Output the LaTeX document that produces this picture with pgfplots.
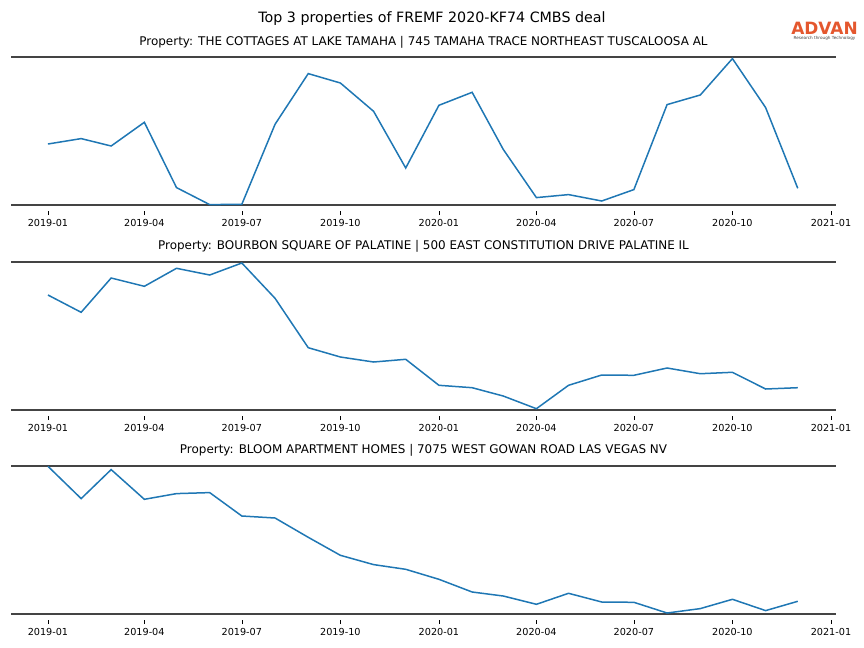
\documentclass[border=0pt]{standalone}
\usepackage{pgfplots}
\usepackage{pgfplotstable}
\pgfplotsset{compat=1.18}
\usepackage{fontspec}
\setmainfont{DejaVu Sans}
\definecolor{mplblue}{HTML}{1F77B4}
\definecolor{spine}{HTML}{444444}
\definecolor{advan}{HTML}{E4572E}

% x = days since 2019-01-01, y = relative level (axis range 0..148)
\pgfplotstableread{
x y
0 61.0
31 66.4
59 59.0
90 82.7
120 17.4
151 0.4
181 0.7
212 80.7
243 131.4
273 122.0
304 93.7
334 37.0
365 99.7
396 112.7
425 55.7
456 7.4
486 10.4
517 4.0
547 15.4
578 100.4
609 110.0
639 146.4
670 97.4
700 16.7
}\propA
\pgfplotstableread{
x y
0 115.0
31 97.7
59 132.0
90 123.7
120 141.7
151 135.0
181 147.0
212 111.7
243 62.3
273 53.0
304 48.0
334 50.7
365 24.7
396 22.3
425 14.0
456 1.3
486 24.7
517 35.0
547 34.7
578 42.0
609 36.3
639 37.7
670 21.0
700 22.3
}\propB
\pgfplotstableread{
x y
0 147.7
31 115.4
59 144.4
90 114.7
120 120.4
151 121.4
181 98.0
212 96.0
243 76.7
273 58.7
304 49.4
334 44.7
365 34.7
396 22.0
425 18.0
456 9.7
486 20.7
517 12.0
547 11.7
578 1.0
609 5.4
639 14.7
670 3.4
700 12.7
}\propC

\pgfplotsset{
  panel/.style={
    scale only axis, width=825bp, height=148bp,
    anchor=south west,
    xmin=-34.5, xmax=735.7, ymin=0, ymax=148,
    axis x line=box, axis y line=none,
    axis line style={spine, line width=1.5bp},
    xtick pos=lower,
    xtick={0,90,181,273,365,456,547,639,731},
    xticklabels={2019-01,2019-04,2019-07,2019-10,2020-01,2020-04,2020-07,2020-10,2021-01},
    ytick=\empty,
    tick align=outside, major tick length=4bp,
    xtick style={draw=black, line width=0.6bp, yshift=-6bp},
    x tick label style={font=\fontsize{9.7}{11}\selectfont, yshift=-7bp},
    /pgf/number format/assume math mode=true,
    clip=false,
  }
}

\begin{document}
\begin{tikzpicture}
\useasboundingbox (0,0) rectangle (864bp,-648bp);

\node[font=\fontsize{14.3}{16}\selectfont] at (432bp,-19bp) {Top 3 properties of FREMF 2020-KF74 CMBS deal};

\node[font=\fontsize{17}{18}\selectfont\bfseries, text=advan, inner sep=0pt] at (824.5bp,-28bp) {ADVAN};
\node[font=\fontsize{4.2}{5}\selectfont, text=darkgray, inner sep=0pt] at (824.5bp,-38.5bp) {Research through Technology};

\node[font=\fontsize{12}{14}\selectfont] at (423.5bp,-42bp) {Property: THE COTTAGES AT LAKE TAMAHA | 745 TAMAHA TRACE NORTHEAST TUSCALOOSA AL};
\node[font=\fontsize{12}{14}\selectfont] at (423.5bp,-246bp) {Property: BOURBON SQUARE OF PALATINE | 500 EAST CONSTITUTION DRIVE PALATINE IL};
\node[font=\fontsize{12}{14}\selectfont] at (423.5bp,-450bp) {Property: BLOOM APARTMENT HOMES | 7075 WEST GOWAN ROAD LAS VEGAS NV};

\begin{axis}[panel, at={(11bp,-205bp)}]
\addplot[mplblue, line width=1.5bp] table {\propA};
\end{axis}
\begin{axis}[panel, at={(11bp,-410bp)}]
\addplot[mplblue, line width=1.5bp] table {\propB};
\end{axis}
\begin{axis}[panel, at={(11bp,-614bp)}]
\addplot[mplblue, line width=1.5bp] table {\propC};
\end{axis}
\end{tikzpicture}
\end{document}
